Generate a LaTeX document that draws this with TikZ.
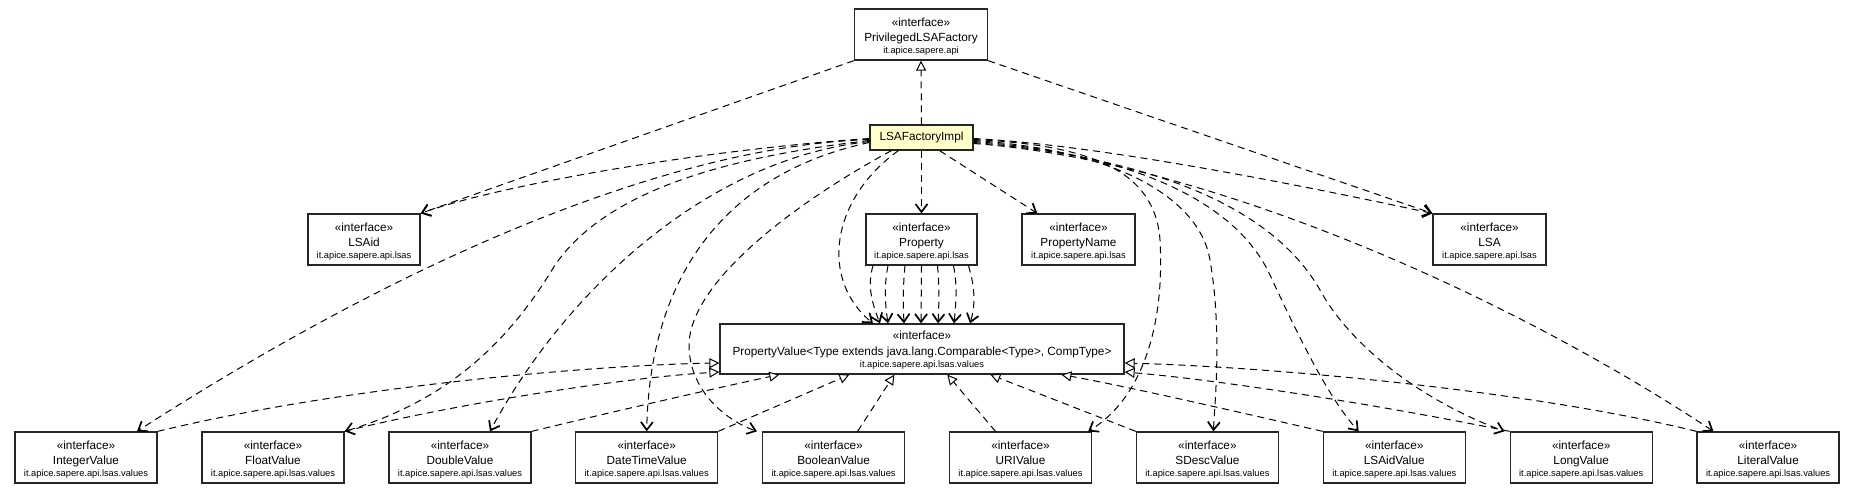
\documentclass[tikz,border=0pt]{standalone}
\usepackage{fontspec}
\setmainfont{Liberation Sans}
\usetikzlibrary{arrows.meta,calc}
\definecolor{lfifill}{HTML}{FFFFCC}
\tikzset{
  umlbox/.style={draw=black!85, line width=1.3pt, fill=white, inner sep=0pt, minimum height=51pt},
  stereo/.style={font=\fontsize{11.8}{14}\selectfont, anchor=base, inner sep=0pt},
  pkgtext/.style={font=\fontsize{9.3}{11}\selectfont, anchor=base, inner sep=0pt},
  dep/.style={dash pattern=on 7pt off 5pt, line width=1pt, -{Straight Barb[length=8pt,width=12pt,line width=1.7pt]}},
  real/.style={dash pattern=on 7pt off 5pt, line width=1pt, -{Triangle[length=10pt,width=10pt,fill=white,line width=1pt]}},
}
\newcommand\umlifc[6]{%
  \node[umlbox, minimum width=#4pt] (#1) at (#2,#3) {};
  \node[stereo] (#1-s) at ($(#1.north)+(0,17.7)$) {«interface»};
  \node[stereo] (#1-n) at ($(#1.north)+(0,32.7)$) {#5};
  \node[pkgtext] (#1-p) at ($(#1.north)+(0,45)$) {#6};
}
\begin{document}
\begin{tikzpicture}[x=1pt,y=-1pt]
\useasboundingbox (0,0) rectangle (1853,496);
% nodes
\umlifc{plf}{921}{34.5}{133}{PrivilegedLSAFactory}{it.apice.sapere.api}
\node[draw=black!85, line width=1.3pt, fill=lfifill, minimum width=103pt, minimum height=25pt, inner sep=0pt, font=\fontsize{11.8}{14}\selectfont] (lfi) at (921.5,137.5) {LSAFactoryImpl};
\umlifc{lsaid}{364}{239.5}{112}{LSAid}{it.apice.sapere.api.lsas}
\umlifc{prop}{921.5}{239.5}{111}{Property}{it.apice.sapere.api.lsas}
\umlifc{pn}{1078.5}{239.5}{113}{PropertyName}{it.apice.sapere.api.lsas}
\umlifc{lsa}{1489.5}{239.5}{113}{LSA}{it.apice.sapere.api.lsas}
\node[umlbox, minimum width=404pt, minimum height=50pt] (pv) at (922,349) {};
\node[stereo] (pv-s) at ($(pv.north)+(0,16.5)$) {«interface»};
\node[stereo] (pv-n) at ($(pv.north)+(0,32.5)$) {PropertyValue<Type extends java.lang.Comparable<Type>, CompType>};
\node[pkgtext] (pv-p) at ($(pv.north)+(0,44)$) {it.apice.sapere.api.lsas.values};
\umlifc{iv}{86}{457.5}{142}{IntegerValue}{it.apice.sapere.api.lsas.values}
\umlifc{fv}{273}{457.5}{142}{FloatValue}{it.apice.sapere.api.lsas.values}
\umlifc{dv}{460}{457.5}{142}{DoubleValue}{it.apice.sapere.api.lsas.values}
\umlifc{dtv}{646.7}{457.5}{142}{DateTimeValue}{it.apice.sapere.api.lsas.values}
\umlifc{bv}{833.6}{457.5}{142}{BooleanValue}{it.apice.sapere.api.lsas.values}
\umlifc{uv}{1020.5}{457.5}{142}{URIValue}{it.apice.sapere.api.lsas.values}
\umlifc{sv}{1207.4}{457.5}{142}{SDescValue}{it.apice.sapere.api.lsas.values}
\umlifc{lav}{1394.3}{457.5}{142}{LSAidValue}{it.apice.sapere.api.lsas.values}
\umlifc{lv}{1581.2}{457.5}{142}{LongValue}{it.apice.sapere.api.lsas.values}
\umlifc{ltv}{1768.1}{457.5}{142}{LiteralValue}{it.apice.sapere.api.lsas.values}
% realization LFI -> PLF
\draw[real] (lfi.north) -- (plf.south);
% PLF deps
\draw[dep] (plf.south west) -- (lsaid.north east);
\draw[dep] (plf.south east) -- (lsa.north west);
% LFI left side deps
\draw[dep] ($(lfi.west)+(0,1)$) .. controls (700,150) and (500,185) .. (lsaid.north east);
\draw[dep] ($(lfi.west)+(0,2)$) .. controls (700,145) and (450,230) .. ($(iv.north)+(51,0)$);
\draw[dep] ($(lfi.west)+(0,3)$) .. controls (700,160) and (600,200) .. (555,265) .. controls (510,340) and (450,400) .. (fv.north east);
\draw[dep] ($(lfi.west)+(0,4)$) .. controls (700,160) and (560,300) .. ($(dv.north)+(30,0)$);
\draw[dep] ($(lfi.west)+(0,5)$) .. controls (740,170) and (650,260) .. (dtv.north);
\draw[dep] ($(lfi.south west)+(22,0)$) .. controls (800,200) and (690,280) .. (689,345) .. controls (689,390) and (725,420) .. ($(bv.north west)+(-5,0)$);
\draw[dep] ($(lfi.south west)+(29,0)$) .. controls (830,200) and (820,280) .. ($(pv.north)+(-49,0)$);
\draw[dep] (lfi.south) -- (prop.north);
\draw[dep] ($(lfi.south east)+(-34,0)$) -- ($(pn.north west)+(16,0)$);
% LFI right side deps
\draw[dep] ($(lfi.east)+(0,1)$) .. controls (1100,145) and (1300,185) .. (lsa.north west);
\draw[dep] ($(lfi.east)+(0,2)$) .. controls (1090,145) and (1155,170) .. (1160,240) .. controls (1165,330) and (1140,400) .. ($(uv.north east)+(-4,0)$);
\draw[dep] ($(lfi.east)+(0,3)$) .. controls (1120,150) and (1200,200) .. (1210,260) .. controls (1222,330) and (1215,400) .. ($(sv.north)+(6,0)$);
\draw[dep] ($(lfi.east)+(0,4)$) .. controls (1150,155) and (1240,210) .. (1270,275) .. controls (1300,340) and (1330,400) .. ($(lav.north west)+(36,0)$);
\draw[dep] ($(lfi.east)+(0,5)$) .. controls (1180,160) and (1280,220) .. (1320,290) .. controls (1350,345) and (1420,400) .. ($(lv.north west)+(-5,0)$);
\draw[dep] ($(lfi.east)+(0,6)$) .. controls (1200,160) and (1500,290) .. ($(ltv.north west)+(17,0)$);
% Property -> PropertyValue
\draw[dep] ($(prop.south)+(-48.5,0)$) .. controls +(-6,20) and +(-8,-20) .. ($(pv.north)+(-42,0)$);
\draw[dep] ($(prop.south)+(-33.5,0)$) .. controls +(-4,20) and +(-3,-20) .. ($(pv.north)+(-34,0)$);
\draw[dep] ($(prop.south)+(-16.5,0)$) .. controls +(-2,20) and +(-1,-20) .. ($(pv.north)+(-18,0)$);
\draw[dep] ($(prop.south)+(0,0)$) -- ($(pv.north)+(-1,0)$);
\draw[dep] ($(prop.south)+(16,0)$) .. controls +(2,20) and +(1,-20) .. ($(pv.north)+(16,0)$);
\draw[dep] ($(prop.south)+(32,0)$) .. controls +(4,20) and +(2,-20) .. ($(pv.north)+(32,0)$);
\draw[dep] ($(prop.south)+(47,0)$) .. controls +(6,20) and +(6,-20) .. ($(pv.north)+(48,0)$);
% realizations to PropertyValue
\draw[real] (iv.north east) .. controls (350,385) and (600,365) .. ($(pv.west)+(0,14)$);
\draw[real] (fv.north east) .. controls (450,405) and (620,378) .. ($(pv.west)+(0,23)$);
\draw[real] (dv.north east) .. controls (620,410) and (730,385) .. ($(pv.south west)+(60,0)$);
\draw[real] (dtv.north east) -- ($(pv.south west)+(130,0)$);
\draw[real] ($(bv.north)+(24,0)$) -- ($(pv.south west)+(175,0)$);
\draw[real] ($(uv.north)+(-25,0)$) -- ($(pv.south west)+(228,0)$);
\draw[real] (sv.north west) -- ($(pv.south west)+(271,0)$);
\draw[real] (lav.north west) .. controls (1230,410) and (1120,385) .. ($(pv.south west)+(342,0)$);
\draw[real] (lv.north west) .. controls (1380,405) and (1220,380) .. ($(pv.east)+(0,23)$);
\draw[real] (ltv.north west) .. controls (1550,395) and (1300,368) .. ($(pv.east)+(0,14)$);
\end{tikzpicture}
\end{document}
